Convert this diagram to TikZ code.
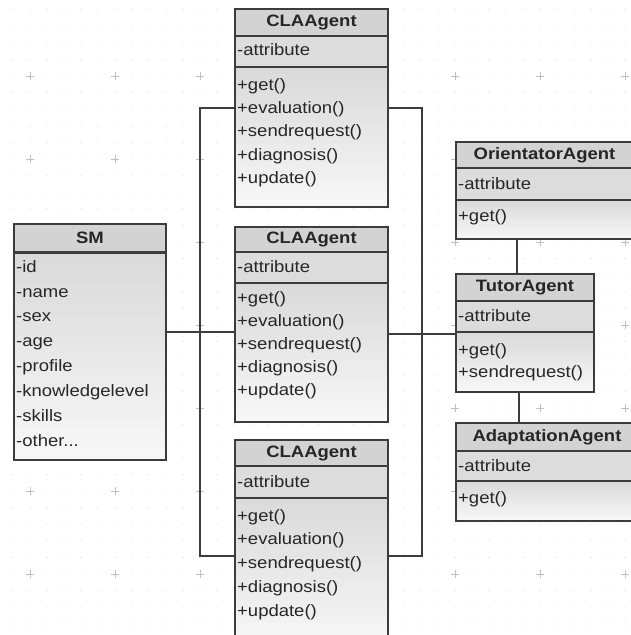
\documentclass[tikz,border=0pt]{standalone}
\usepackage{fontspec}
\setmainfont{Liberation Sans}[FakeStretch=1.12]
\usetikzlibrary{fit}
\definecolor{bord}{HTML}{3C3C3C}
\definecolor{hdrfill}{HTML}{D3D3D3}
\definecolor{attfill}{HTML}{DCDCDC}
\definecolor{methtop}{HTML}{DADADA}
\definecolor{methbot}{HTML}{F8F8F8}
\definecolor{txt}{HTML}{262626}
\tikzset{
 boxline/.style={draw=bord, line width=1.4pt},
 conn/.style={draw=bord, line width=1.4pt},
 ttl/.style={font=\fontsize{16.5}{18}\selectfont\bfseries, text=txt, inner sep=0pt},
 itm/.style={font=\fontsize{16.5}{18}\selectfont, text=txt, anchor=west, inner sep=0pt, text height=12pt, text depth=3.5pt},
 minordot/.style={fill=gray!22},
 majorcross/.style={draw=gray!50, line width=0.7pt},
}
\newcommand\umlclass[8]{%
  \fill[hdrfill] (#2,#4) rectangle (#3,#5);
  \fill[attfill] (#2,#5) rectangle (#3,#6);
  \foreach \s in {0,...,19} {%
    \pgfmathsetmacro\pc{5*\s}%
    \fill[methbot!\pc!methtop] (#2,{#6+(#7-#6)*\s/20}) rectangle (#3,{#6+(#7-#6)*(\s+1)/20+0.6});
  }
  \draw[boxline] (#2,#5) -- (#3,#5) (#2,#6) -- (#3,#6);
  \node[boxline, fit={(#2,#4) (#3,#7)}, inner sep=0pt] (#1) {};
  \node[ttl] (#1-title) at ({(#2+#3)/2},{(#4+#5)/2}) {#8};
}
\newcommand\umlitems[3]{%
  \foreach \yy/\lab [count=\k] in {#3} {\node[itm] (#1-\k) at (#2,\yy) {\lab};}
}
\begin{document}
\begin{tikzpicture}[x=1pt,y=-1pt]
\useasboundingbox (0,0) rectangle (630,635);
\fill[white] (0,0) rectangle (630,635);
% background grid
\foreach \i in {0,...,36} {\foreach \j in {0,...,37} {\fill[minordot] ({13+17*\i},{9.6+16.6*\j}) circle (0.7);}}
\foreach \i in {0,...,7} {\foreach \j in {0,...,6} {
  \draw[majorcross] ({30+85*\i-4},{76+83*\j}) -- ({30+85*\i+4},{76+83*\j})
                    ({30+85*\i},{76+83*\j-4}) -- ({30+85*\i},{76+83*\j+4});}}
% classes
\umlclass{cla1}{235}{388}{9}{36}{67}{207}{CLAAgent}
\umlitems{cla1}{237}{51/{-attribute},86/{+get()},109/{+evaluation()},132.5/{+sendrequest()},156/{+diagnosis()},179.5/{+update()}}
\umlclass{cla2}{235}{388}{227}{252}{283}{422}{CLAAgent}
\umlitems{cla2}{237}{268/{-attribute},299/{+get()},322/{+evaluation()},345/{+sendrequest()},368/{+diagnosis()},391/{+update()}}
\umlclass{cla3}{235}{388}{440}{466}{498}{645}{CLAAgent}
\umlitems{cla3}{237}{483/{-attribute},517/{+get()},540/{+evaluation()},564/{+sendrequest()},588/{+diagnosis()},612/{+update()}}
\umlclass{sm}{14}{166}{224}{252}{253}{460}{SM}
\umlitems{sm}{16}{268/{-id},293/{-name},317.5/{-sex},342/{-age},367/{-profile},392/{-knowledgelevel},417/{-skills},442/{-other...}}
\umlclass{orient}{456}{633}{142}{168}{200}{239}{OrientatorAgent}
\umlitems{orient}{458}{185/{-attribute},217/{+get()}}
\umlclass{tutor}{456}{594}{274}{301}{332}{392}{TutorAgent}
\umlitems{tutor}{458}{317/{-attribute},351.5/{+get()},373.5/{+sendrequest()}}
\umlclass{adapt}{456}{638}{423}{451}{481}{521}{AdaptationAgent}
\umlitems{adapt}{458}{467/{-attribute},499/{+get()}}
% connectors
\draw[conn] (cla1.west |- 0,108) -- (200,108) -- (200,556) -- (cla3.west |- 0,556);
\draw[conn] (cla1.east |- 0,108) -- (422,108) -- (422,556) -- (cla3.east |- 0,556);
\draw[conn] (sm.east |- 0,332) -- (cla2.west |- 0,332);
\draw[conn] (cla2.east |- 0,334) -- (tutor.west |- 0,334);
\draw[conn] (orient.south -| 517,0) -- (tutor.north -| 517,0);
\draw[conn] (tutor.south -| 519,0) -- (adapt.north -| 519,0);
\end{tikzpicture}
\end{document}
